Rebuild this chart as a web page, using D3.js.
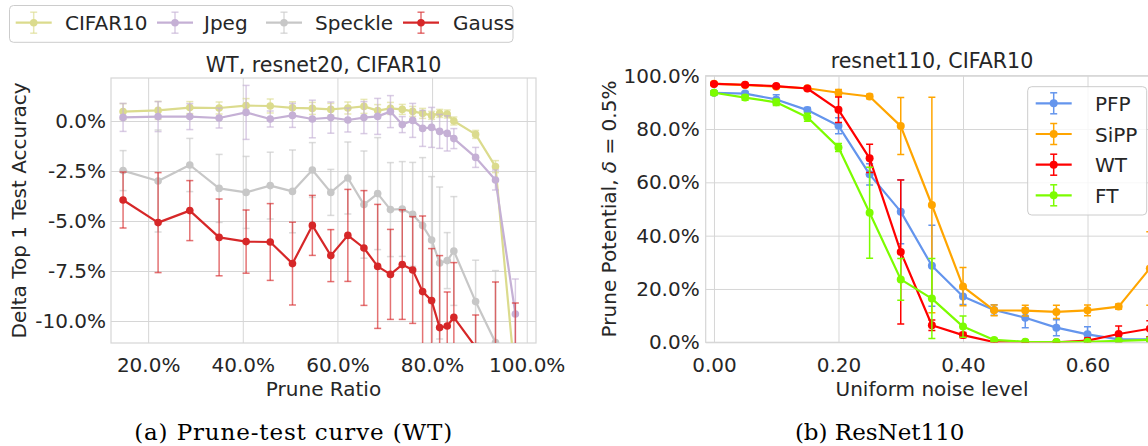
<!DOCTYPE html>
<html>
<head>
<meta charset="utf-8">
<script src="https://cdn.jsdelivr.net/npm/d3@7"></script>
<style>
body { margin: 0; background: #fff; }
svg { display: block; font-family: "DejaVu Sans", sans-serif; }
</style>
</head>
<body>
<div id="figure"></div>
<script>
// ---- left panel: prune-test curve, WT, resnet20 ----
var pruneRatio = [14.7, 22.1, 28.8, 35.0, 40.7, 45.8, 50.5, 54.7, 58.6, 62.2, 65.6, 68.5,
                  71.2, 73.7, 75.9, 78.0, 79.9, 81.6, 83.2, 84.6, 89.2, 93.4, 97.6];
var cifarAcc = [0.47, 0.53, 0.67, 0.65, 0.77, 0.75, 0.66, 0.63, 0.58, 0.65, 0.73, 0.52,
                0.63, 0.58, 0.48, 0.38, 0.28, 0.38, 0.35, 0.0, -0.67, -2.28, -13.0];
var cifarErr = [0.4, 0.45, 0.3, 0.3, 0.35, 0.35, 0.3, 0.3, 0.3, 0.3, 0.35, 0.3,
                0.3, 0.25, 0.25, 0.25, 0.2, 0.2, 0.2, 0.2, 0.2, 0.3, 0.5];
var jpegAcc = [0.18, 0.22, 0.22, 0.15, 0.43, 0.1, 0.28, 0.1, 0.17, 0.05, 0.17, 0.23,
               0.47, -0.18, 0.03, -0.37, -0.32, -0.52, -0.62, -0.88, -1.82, -2.95, -9.65];
var jpegErr = [0.7, 0.75, 0.65, 0.5, 1.35, 0.4, 0.6, 0.94, 0.78, 0.6, 0.8, 0.9,
               0.8, 0.4, 0.85, 0.9, 1.0, 0.85, 0.88, 0.5, 0.5, 0.5, 1.75];
var speckleAcc = [-2.48, -3.0, -2.2, -3.37, -3.57, -3.23, -3.52, -2.45, -3.57, -2.85, -4.18, -3.63,
                  -4.43, -4.4, -4.67, -5.23, -5.95, -7.1, -6.98, -6.5, -9.03, -11.08, -14.0];
var speckleErr = [1.0, 2.55, 1.33, 1.7, 1.8, 1.67, 2.07, 1.37, 1.15, 1.8, 2.68, 2.8,
                  2.35, 2.37, 2.6, 3.4, 3.17, 3.8, 1.4, 2.72, 2.07, 3.6, 2.0];
var gaussAcc = [-3.95, -5.08, -4.48, -5.82, -6.03, -6.05, -7.13, -5.22, -6.73, -5.72, -6.35, -7.27,
                -7.67, -7.18, -7.45, -8.53, -8.98, -10.33, -10.25, -9.82, -11.3, -14.0, -15.0];
var gaussErr = [1.4, 2.5, 1.5, 1.92, 1.58, 1.92, 2.07, 1.5, 1.3, 2.3, 2.87, 3.1,
                2.25, 2.74, 2.67, 3.78, 2.6, 3.6, 1.7, 2.74, 1.6, 5.95, 5.9];
var leftNames = ["CIFAR10", "Jpeg", "Speckle", "Gauss"];
var leftXTicks = [20, 40, 60, 80, 100];
var leftYTicks = [0, -2.5, -5, -7.5, -10];

// ---- right panel: resnet110, CIFAR10, uniform noise ----
var noiseLevel = [0.00, 0.05, 0.10, 0.15, 0.20, 0.25, 0.30, 0.35, 0.40, 0.45, 0.50, 0.55, 0.60, 0.65, 0.70];
var pfpPot = [93.6, 93.3, 91.1, 87.1, 81.2, 63.0, 49.0, 28.7, 17.2, 12.1, 9.2, 5.5, 3.0, 1.1, 1.1];
var pfpErr = [0.8, 0.8, 1.8, 1.0, 3.0, 4.0, 12.0, 15.2, 3.0, 2.0, 3.7, 3.0, 2.8, 0.5, 0.5];
var sippPot = [97.0, 96.5, 95.9, 95.3, 93.6, 92.2, 81.1, 51.5, 20.9, 12.0, 11.9, 11.4, 12.0, 13.4, 27.7];
var sippErr = [0.5, 0.5, 0.5, 0.5, 1.2, 0.8, 10.7, 40.4, 7.2, 2.0, 2.0, 2.5, 2.0, 1.0, 13.8];
var wtPot = [96.9, 96.6, 96.1, 95.2, 87.2, 69.0, 33.9, 6.4, 2.7, 0.1, 0.0, 0.0, 0.6, 3.1, 5.1];
var wtErr = [0.4, 0.4, 0.4, 0.4, 4.8, 5.3, 27.0, 2.0, 1.0, 0.3, 0.0, 0.0, 1.0, 3.0, 3.0];
var ftPot = [93.6, 91.8, 90.0, 84.4, 73.1, 48.6, 23.6, 16.4, 5.9, 0.9, 0.2, 0.1, 0.2, 0.5, 0.9];
var ftErr = [0.8, 1.0, 1.2, 1.5, 1.5, 17.1, 7.8, 15.0, 4.0, 0.5, 0.2, 0.1, 0.2, 0.3, 0.5];
var rightNames = ["PFP", "SiPP", "WT", "FT"];
var rightXTicks = [0, 0.2, 0.4, 0.6];
var rightYTicks = [0, 20, 40, 60, 80, 100];

var textColor = "#262626";
var gridColor = "#d6d6d6";

var svg = d3.select("#figure")
    .append("svg")
    .attr("width", 1148)
    .attr("height", 446);

function drawPanel(p) {
    var x = p.x, y = p.y;
    var left = x.range()[0], right = x.range()[1];
    var top = y.range()[1], bottom = y.range()[0];

    svg.append("clipPath").attr("id", p.id + "-clip")
        .append("rect")
        .attr("x", left).attr("y", top)
        .attr("width", right - left).attr("height", bottom - top);

    var g = svg.append("g");

    // x grid + tick labels
    var xAxis = g.append("g")
        .attr("transform", `translate(0,${bottom})`)
        .call(d3.axisBottom(x).tickValues(p.xTicks).tickFormat(p.xFormat)
            .tickSize(-(bottom - top)).tickPadding(p.xPad));
    // y grid + tick labels
    var yAxis = g.append("g")
        .attr("transform", `translate(${left},0)`)
        .call(d3.axisLeft(y).tickValues(p.yTicks).tickFormat(p.yFormat)
            .tickSize(-(right - left)).tickPadding(p.yPad));

    [xAxis, yAxis].forEach(function(a) {
        a.select(".domain").remove();
        a.selectAll(".tick line").attr("stroke", gridColor).attr("stroke-width", 1);
        a.selectAll(".tick text")
            .attr("fill", textColor)
            .style("font-size", "20px")
            .style("font-family", "DejaVu Sans");
    });

    // frame
    g.append("rect")
        .attr("x", left).attr("y", top)
        .attr("width", right - left).attr("height", bottom - top)
        .attr("fill", "none")
        .attr("stroke", gridColor)
        .attr("stroke-width", 1.2);

    var plot = g.append("g").attr("clip-path", `url(#${p.id}-clip)`);

    p.series.forEach(function(s) {
        var pts = s.values.map(function(v, i) {
            return { x: p.xs[i], y: v, e: s.err[i] };
        });
        var sg = plot.append("g");

        // error bars
        var bars = sg.selectAll("g.bar").data(pts).enter().append("g")
            .attr("stroke", s.color)
            .attr("stroke-opacity", p.errOpacity)
            .attr("stroke-width", 1.5);
        bars.append("line")
            .attr("x1", d => x(d.x)).attr("x2", d => x(d.x))
            .attr("y1", d => y(d.y - d.e)).attr("y2", d => y(d.y + d.e));
        bars.append("line")
            .attr("x1", d => x(d.x) - 3.5).attr("x2", d => x(d.x) + 3.5)
            .attr("y1", d => y(d.y - d.e)).attr("y2", d => y(d.y - d.e));
        bars.append("line")
            .attr("x1", d => x(d.x) - 3.5).attr("x2", d => x(d.x) + 3.5)
            .attr("y1", d => y(d.y + d.e)).attr("y2", d => y(d.y + d.e));

        sg.append("path")
            .datum(pts)
            .attr("fill", "none")
            .attr("stroke", s.color)
            .attr("stroke-width", 2.2)
            .attr("stroke-linejoin", "round")
            .attr("d", d3.line().x(d => x(d.x)).y(d => y(d.y)));

        sg.selectAll("circle").data(pts).enter().append("circle")
            .attr("cx", d => x(d.x))
            .attr("cy", d => y(d.y))
            .attr("r", p.r)
            .attr("fill", s.color);
    });

    // title
    g.append("text")
        .attr("x", (left + right) / 2)
        .attr("y", p.titleY)
        .attr("text-anchor", "middle")
        .attr("fill", textColor)
        .style("font-size", "20.6px")
        .text(p.title);

    // x label
    g.append("text")
        .attr("x", (left + right) / 2)
        .attr("y", 395.5)
        .attr("text-anchor", "middle")
        .attr("fill", textColor)
        .style("font-size", "20px")
        .text(p.xLabel);

    // y label
    var yl = g.append("text")
        .attr("transform", `translate(${p.yLabelX},${(top + bottom) / 2}) rotate(-90)`)
        .attr("text-anchor", "middle")
        .attr("fill", textColor)
        .style("font-size", "20px");
    p.yLabel.forEach(function(part) {
        yl.append("tspan").style("font-style", part.italic ? "italic" : "normal").text(part.t);
    });
}

function drawLegend(items, frame, handleX, textX, rowY) {
    var lg = svg.append("g");
    lg.append("rect")
        .attr("x", frame.x).attr("y", frame.y)
        .attr("width", frame.w).attr("height", frame.h)
        .attr("rx", 4)
        .attr("fill", "#fff")
        .attr("fill-opacity", 0.8)
        .attr("stroke", "#cccccc")
        .attr("stroke-width", 1);
    items.forEach(function(it, i) {
        var hx = handleX[i], cy = rowY[i], cx = hx + 18;
        var h = lg.append("g");
        h.append("line").attr("x1", hx).attr("x2", hx + 36).attr("y1", cy).attr("y2", cy)
            .attr("stroke", it.color).attr("stroke-width", 2.2);
        var eb = h.append("g").attr("stroke", it.color).attr("stroke-opacity", it.errOpacity).attr("stroke-width", 1.5);
        eb.append("line").attr("x1", cx).attr("x2", cx).attr("y1", cy - 10.5).attr("y2", cy + 10.5);
        eb.append("line").attr("x1", cx - 3.5).attr("x2", cx + 3.5).attr("y1", cy - 10.5).attr("y2", cy - 10.5);
        eb.append("line").attr("x1", cx - 3.5).attr("x2", cx + 3.5).attr("y1", cy + 10.5).attr("y2", cy + 10.5);
        h.append("circle").attr("cx", cx).attr("cy", cy).attr("r", it.r).attr("fill", it.color);
        lg.append("text")
            .attr("x", textX[i])
            .attr("y", cy + 7.7)
            .attr("fill", textColor)
            .style("font-size", "20px")
            .text(it.name);
    });
}

var leftColors = ["#dbdb8d", "#c5b0d5", "#c7c7c7", "#d62728"];
var leftValues = [cifarAcc, jpegAcc, speckleAcc, gaussAcc];
var leftErrs = [cifarErr, jpegErr, speckleErr, gaussErr];

drawPanel({
    id: "left",
    x: d3.scaleLinear().domain([12.15, 101.96]).range([111, 536]),
    y: d3.scaleLinear().domain([-11.1, 2.15]).range([343, 78]),
    xs: pruneRatio,
    xTicks: leftXTicks,
    yTicks: leftYTicks,
    xFormat: d => d.toFixed(1) + "%",
    yFormat: d => d.toFixed(1) + "%",
    xPad: 14.5,
    yPad: 5,
    r: 3.8,
    errOpacity: 0.65,
    title: "WT, resnet20, CIFAR10",
    titleY: 71.5,
    xLabel: "Prune Ratio",
    yLabel: [{ t: "Delta Top 1 Test Accuracy" }],
    yLabelX: 26,
    series: leftNames.map(function(n, i) {
        return { name: n, color: leftColors[i], values: leftValues[i], err: leftErrs[i] };
    })
});

var rightColors = ["#6495ed", "#ffa500", "#ff0000", "#7cfc00"];
var rightValues = [pfpPot, sippPot, wtPot, ftPot];
var rightErrs = [pfpErr, sippErr, wtErr, ftErr];

drawPanel({
    id: "right",
    x: d3.scaleLinear().domain([-0.0133, 0.7137]).range([705.7, 1158.3]),
    y: d3.scaleLinear().domain([0, 100]).range([342.3, 75.7]),
    xs: noiseLevel,
    xTicks: rightXTicks,
    yTicks: rightYTicks,
    xFormat: d => d.toFixed(2),
    yFormat: d => d.toFixed(1) + "%",
    xPad: 15.5,
    yPad: 6,
    r: 4,
    errOpacity: 1,
    title: "resnet110, CIFAR10",
    titleY: 68,
    xLabel: "Uniform noise level",
    yLabel: [{ t: "Prune Potential, " }, { t: "δ", italic: true }, { t: " = 0.5%" }],
    yLabelX: 616,
    series: rightNames.map(function(n, i) {
        return { name: n, color: rightColors[i], values: rightValues[i], err: rightErrs[i] };
    })
});

drawLegend(
    leftNames.map((n, i) => ({ name: n, color: leftColors[i], r: 3.8, errOpacity: 0.65 })),
    { x: 9.5, y: 5.5, w: 503.5, h: 36.8 },
    [15.7, 157, 266, 403],
    [65, 204, 315, 453],
    [22.7, 22.7, 22.7, 22.7]
);

drawLegend(
    rightNames.map((n, i) => ({ name: n, color: rightColors[i], r: 4, errOpacity: 1 })),
    { x: 1027.7, y: 86.7, w: 119, h: 128.3 },
    [1035.7, 1035.7, 1035.7, 1035.7],
    [1095, 1095, 1095, 1095],
    [103.3, 134, 164.7, 195.3]
);

// sub-figure captions
svg.append("text")
    .attr("x", 293.2).attr("y", 440)
    .attr("text-anchor", "middle")
    .style("font-family", "DejaVu Serif")
    .style("font-size", "23px")
    .attr("textLength", 318)
    .text("(a) Prune-test curve (WT)");
svg.append("text")
    .attr("x", 879.7).attr("y", 440)
    .attr("text-anchor", "middle")
    .style("font-family", "DejaVu Serif")
    .style("font-size", "23px")
    .text("(b) ResNet110");
</script>
</body>
</html>
